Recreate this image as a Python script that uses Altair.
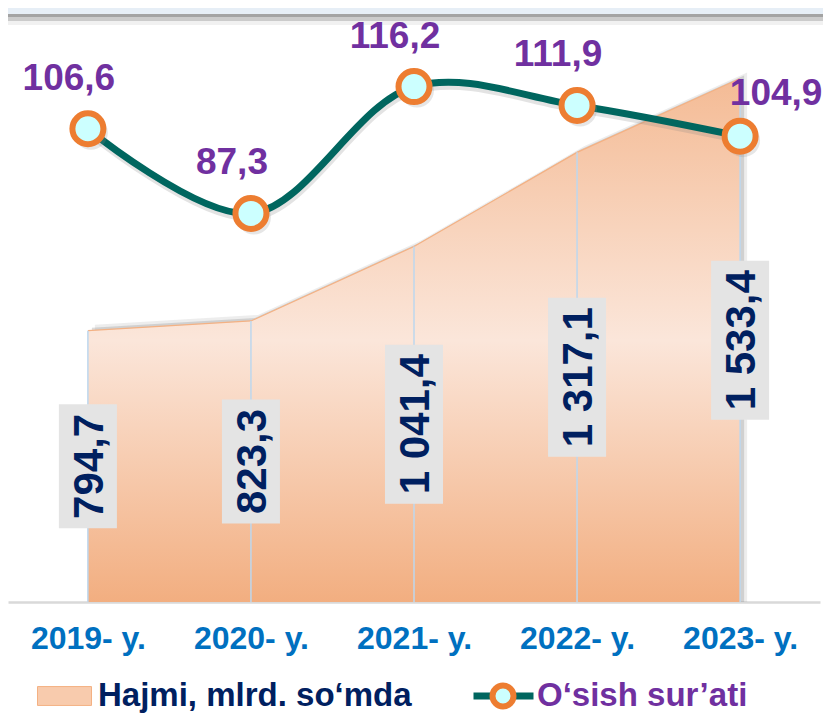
import altair as alt
import pandas as pd

# ---- data ----
years = ["2019- y.", "2020- y.", "2021- y.", "2022- y.", "2023- y."]
volume = [794.7, 823.3, 1041.4, 1317.1, 1533.4]      # Hajmi, mlrd. so‘mda
growth = [106.6, 87.3, 116.2, 111.9, 104.9]           # O‘sish sur’ati
name_volume = "Hajmi, mlrd. so‘mda"
name_growth = "O‘sish sur’ati"

df = pd.DataFrame({"year": years, "volume": volume, "growth": growth})

W, H = 812, 594
FONT = "Liberation Sans, Arial, sans-serif"
NAVY = "#002060"
PURPLE = "#7030a0"
TEAL = "#00665f"
ORANGE = "#ed7d31"
CYAN = "#ccffff"

base = alt.Chart(df).transform_calculate(
    zero="0",
    half="datum.volume / 2",
    label="replace(replace(format(datum.volume, ',.1f'), ',', ' '), '.', ',')",
    glabel="replace(format(datum.growth, '.1f'), '.', ',')",
    boxkind="length(datum.label) > 5 ? 'long' : 'short'",
    s0=f"'{name_volume}'",
    s1=f"'{name_growth}'",
    s2=f"'{name_growth}'",
)

x_enc = alt.X(
    "year:O", sort=years,
    scale=alt.Scale(type="point", padding=0.49),
    axis=alt.Axis(title=None, labelAngle=0, labelFont=FONT, labelFontSize=32,
                  labelFontWeight="bold", labelColor="#0070c0", ticks=False,
                  domainColor="#d9d9d9", domainWidth=2.5, labelPadding=21, grid=False),
)

yv = alt.Y("volume:Q", scale=alt.Scale(domain=[0, 1740], nice=False, zero=True), axis=None)
yv_half = alt.Y("half:Q", scale=alt.Scale(domain=[0, 1740], nice=False, zero=True), axis=None)
yg = alt.Y("growth:Q", scale=alt.Scale(domain=[-1.2, 134.1], nice=False, zero=False), axis=None)

# ---- decorative slide band at top ----
one = alt.Data(values=[{"a": 1}])
band_specs = [(0, 6, "#e6eef6"), (6, 9, "#a3a3a3"), (9, 13, "#cbcbcb"), (13, 17, "#f1f1f1")]
bands = [
    alt.Chart(one).mark_rect(color=c).encode(
        x=alt.value(0), x2=alt.value(W + 3), y=alt.value(a), y2=alt.value(b))
    for a, b, c in band_specs
]

# ---- volume (area) ----
grad = alt.Gradient(
    gradient="linear", x1=0, x2=0, y1=0, y2=1,
    stops=[alt.GradientStop(color="#f4bb95", offset=0),
           alt.GradientStop(color="#fbe6da", offset=0.5),
           alt.GradientStop(color="#f2ae80", offset=1)],
)
shadow1 = base.mark_area(color="#9a9a9a", opacity=0.18, xOffset=7, yOffset=-6).encode(x=x_enc, y=yv, y2="zero:Q")
shadow2 = base.mark_area(color="#9a9a9a", opacity=0.35, xOffset=4, yOffset=-3).encode(x=x_enc, y=yv, y2="zero:Q")
area = base.mark_area(fill=grad, opacity=1).encode(x=x_enc, y=yv, y2="zero:Q")
edge = base.mark_line(color="#f4b183", strokeWidth=1.2).encode(x=x_enc, y=yv)
drops = base.mark_rule(color="#bdd7ee", strokeWidth=1.5).encode(x=x_enc, y=yv, y2="zero:Q")

box_short = "M-0.365,-0.78H0.365V0.78H-0.365Z"
box_long = "M-0.365,-1H0.365V1H-0.365Z"
boxes = base.mark_point(filled=True, fill="#e4e4e4", opacity=1, size=159 * 159, strokeWidth=0).encode(
    x=x_enc, y=yv_half,
    shape=alt.Shape("boxkind:N", scale=alt.Scale(domain=["short", "long"], range=[box_short, box_long]), legend=None),
)
vlabels = base.mark_text(angle=270, font=FONT, fontSize=42, fontWeight="bold", color=NAVY,
                         align="center", baseline="middle", dy=2).encode(x=x_enc, y=yv_half, text="label:N")

volume_layer = alt.layer(shadow1, shadow2, area, edge, drops, boxes, vlabels)

# ---- growth (line) ----
line_shadow = base.mark_line(interpolate="catmull-rom", strokeWidth=7, color="#7f7f7f", opacity=0.22,
                             yOffset=4, xOffset=1).encode(x=x_enc, y=yg)
line = base.mark_line(interpolate="catmull-rom", strokeWidth=7).encode(
    x=x_enc, y=yg,
    stroke=alt.Stroke("s1:N", scale=alt.Scale(domain=[name_growth], range=[TEAL]),
                      legend=alt.Legend(orient="none", legendX=462, legendY=654.5, title=None,
                                        symbolType="M-1,0H-0.35M0.35,0H1", symbolSize=3600,
                                        symbolStrokeWidth=7, symbolStrokeColor=TEAL,
                                        labelFont=FONT, labelFontSize=33, labelFontWeight="bold",
                                        labelColor=PURPLE, labelLimit=600, labelOffset=0, padding=0)),
)
pt_shadow = base.mark_point(filled=True, color="#8f8f8f", opacity=0.22, size=1150,
                            xOffset=3, yOffset=4).encode(x=x_enc, y=yg)
points = base.mark_point(filled=True, fill=CYAN, stroke=ORANGE, strokeWidth=6, size=961,
                         opacity=1, shape="circle").encode(x=x_enc, y=yg)
glabels = base.transform_filter(alt.datum.year != years[-1]).mark_text(
    font=FONT, fontSize=37, fontWeight="bold", color=PURPLE, align="center", baseline="middle",
    dx=-19, dy=-50).encode(x=x_enc, y=yg, text="glabel:N")
glabel_last = base.transform_filter(alt.datum.year == years[-1]).mark_text(
    font=FONT, fontSize=37, fontWeight="bold", color=PURPLE, align="center", baseline="middle",
    dx=36, dy=-42).encode(x=x_enc, y=yg, text="glabel:N")

growth_layer = alt.layer(line_shadow, line, pt_shadow, points, glabels, glabel_last)

# ---- legend entries drawn by the legends only (no marks drawn) ----
area_legend = base.transform_filter("false").mark_point(filled=True, opacity=1).encode(
    fill=alt.Fill("s0:N", scale=alt.Scale(domain=[name_volume], range=["#f8cbad"]),
                  legend=alt.Legend(orient="none", legendX=29, legendY=660.5, title=None,
                                    symbolType="M-1,-0.35H1V0.35H-1Z", symbolSize=2916,
                                    symbolFillColor="#f8cbad", symbolStrokeColor="#f4b183",
                                    symbolStrokeWidth=1, symbolOpacity=1,
                                    labelFont=FONT, labelFontSize=33, labelFontWeight="bold",
                                    labelColor=NAVY, labelLimit=600, labelOffset=6, padding=0)),
)
ring_legend = base.transform_filter("false").mark_point(
    filled=False, fill=CYAN, strokeWidth=6, opacity=1, shape="circle").encode(
    stroke=alt.Stroke("s2:N", scale=alt.Scale(domain=[name_growth], range=[ORANGE]),
                      legend=alt.Legend(orient="none", legendX=481.5, legendY=674.5, title=None,
                                        symbolType="circle", symbolSize=441, symbolStrokeWidth=6,
                                        symbolFillColor=CYAN, symbolOpacity=1,
                                        labelExpr="''", labelFontSize=1, padding=0)),
)

chart = alt.layer(*bands, volume_layer, growth_layer, area_legend, ring_legend).resolve_scale(
    y="independent", shape="independent", stroke="independent"
).properties(
    width=W, height=H,
    autosize=alt.AutoSizeParams(type="none"),
    padding={"left": 0, "top": 0, "right": 3, "bottom": 111},
).configure_view(strokeWidth=0)

chart.save("out.html", embed_options={"renderer": "svg", "actions": False})
